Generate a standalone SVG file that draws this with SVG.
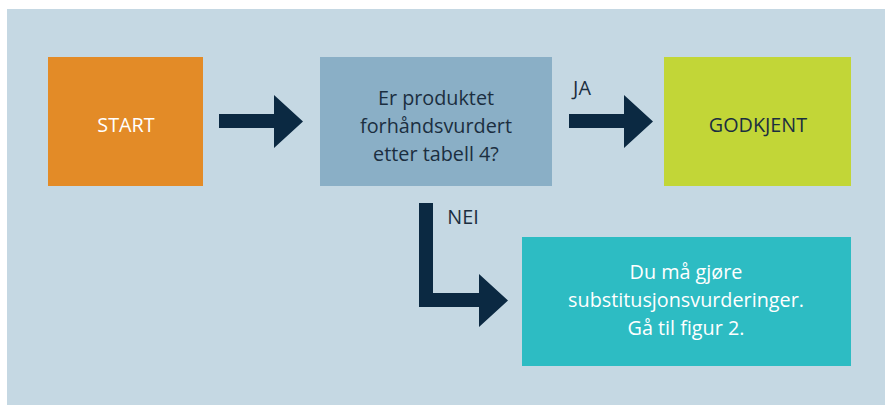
<svg xmlns="http://www.w3.org/2000/svg" width="885" height="406" viewBox="0 0 885 406">
<style>
text{font-family:"Open Sans","Liberation Sans",sans-serif;font-size:19.8px;text-anchor:middle}
.dark{fill:#1b2e40}
.light{fill:#ffffff}
.arrow{fill:#0b2942}
</style>
<rect x="7" y="9" width="878" height="396" fill="#c5d8e3"/>
<g id="start">
<rect x="48" y="57" width="155" height="129" fill="#e38b27"/>
<text class="light" x="126" y="132">START</text>
</g>
<g id="question">
<rect x="320" y="57" width="232" height="129" fill="#8aafc6"/>
<text class="dark" x="436" y="105">Er produktet</text>
<text class="dark" x="436" y="133">forhåndsvurdert</text>
<text class="dark" x="436" y="161">etter tabell 4?</text>
</g>
<g id="godkjent">
<rect x="664" y="57" width="187" height="129" fill="#c2d637"/>
<text class="dark" x="758" y="132">GODKJENT</text>
</g>
<g id="substitusjon">
<rect x="522" y="237" width="329" height="129" fill="#2dbcc3"/>
<text class="light" x="686" y="279">Du må gjøre</text>
<text class="light" x="686" y="307">substitusjonsvurderinger.</text>
<text class="light" x="686" y="335">Gå til figur 2.</text>
</g>
<g id="connectors">
<polygon class="arrow" points="219,114 274,114 274,95 303,121.5 274,148 274,128 219,128"/>
<polygon class="arrow" points="569,114 624,114 624,95 653,121.5 624,148 624,128 569,128"/>
<polygon class="arrow" points="419,203 433,203 433,293 479,293 479,274 508,300.5 479,327 479,307 419,307"/>
<text class="dark" x="582" y="95">JA</text>
<text class="dark" x="463" y="224">NEI</text>
</g>
</svg>
